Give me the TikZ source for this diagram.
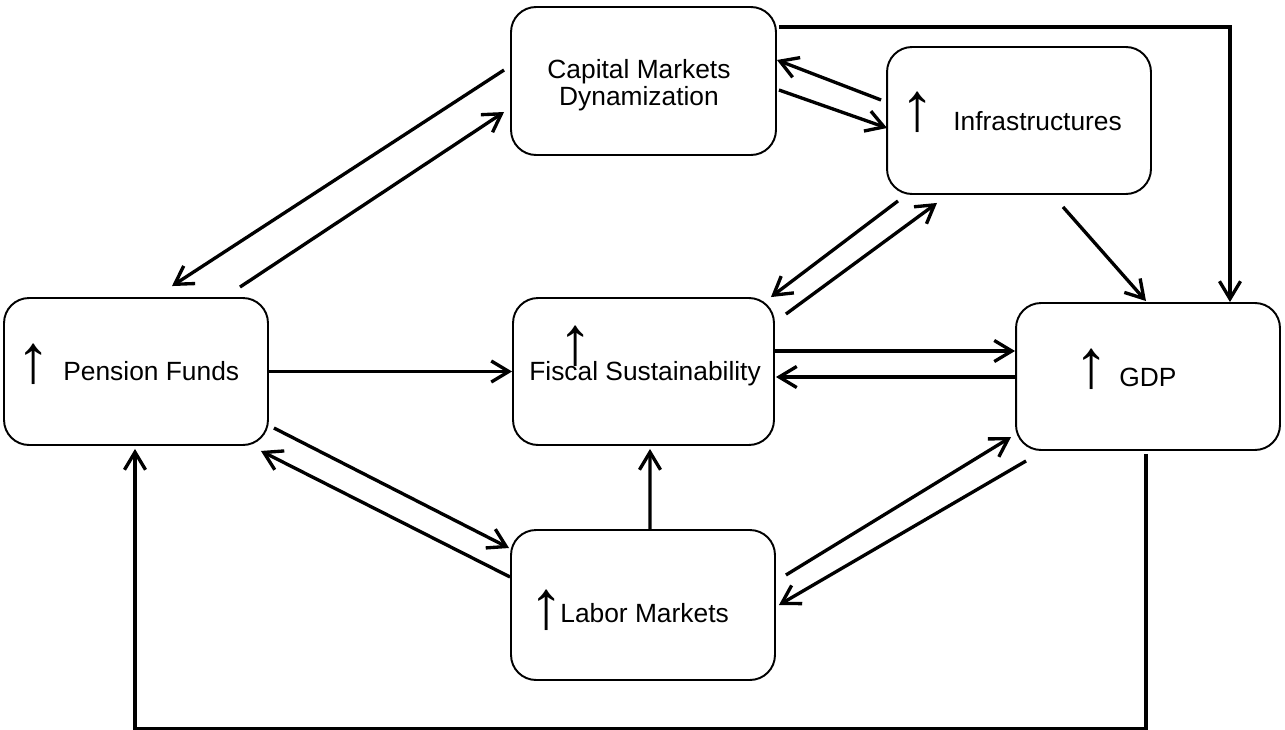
\documentclass[tikz,border=0pt]{standalone}
\usepackage{fontspec}
\setmainfont{Liberation Sans}
\usetikzlibrary{arrows.meta,calc}
\begin{document}
\begin{tikzpicture}[x=0.02cm,y=-0.02cm,
  box/.style={draw, line width=1.1pt, rounded corners=0.5cm, inner sep=0pt},
  conn/.style={line width=1.9pt, -{Straight Barb[length=10pt,width=12pt,line width=1.9pt]}},
  lbl/.style={font=\fontsize{15}{15.5}\selectfont, inner sep=0pt},
  up/.style={font=\fontsize{39}{39}\selectfont\bfseries, inner sep=0pt}]
\useasboundingbox (0,0) rectangle (1285,730);
% boxes
\node[box, minimum width=5.3cm, minimum height=2.96cm] (cap) at (643.5,81) {};
\node[box, minimum width=5.28cm, minimum height=2.94cm] (inf) at (1019,120.5) {};
\node[box, minimum width=5.28cm, minimum height=2.94cm] (pen) at (136,371.5) {};
\node[box, minimum width=5.22cm, minimum height=2.94cm] (fis) at (643.5,371.5) {};
\node[box, minimum width=5.28cm, minimum height=2.94cm] (gdp) at (1148,376.5) {};
\node[box, minimum width=5.28cm, minimum height=3.0cm] (lab) at (643,605) {};
% texts
\node[lbl, align=center] (captext) at (639,85) {Capital Markets\\Dynamization};
\node[lbl, anchor=base west] (inftext) at (953,130) {Infrastructures};
\node[lbl, anchor=base west] (pentext) at (63,380) {Pension Funds};
\node[lbl, anchor=base west] (fistext) at (529,380) {Fiscal Sustainability};
\node[lbl, anchor=base west] (gdptext) at (1119,386) {GDP};
\node[lbl, anchor=base west] (labtext) at (560,622) {Labor Markets};
% up arrows
\node[up] (infup) at (918,112.5) {↑};
\node[up] (penup) at (34,364.5) {↑};
\node[up] (fisup) at (576,346.5) {↑};
\node[up] (gdpup) at (1092,369.5) {↑};
\node[up] (labup) at (547,610) {↑};
% connectors
\draw[conn] ($(cap.west)+(-6,-11)$) -- ($(pen.north)+(36,-11)$);
\draw[conn] ($(pen.north)+(104,-10)$) -- ($(cap.west)+(-6,31)$);
\draw[conn] ($(inf.west)+(-5,-20.5)$) -- ($(cap.east)+(0,-21)$);
\draw[conn] ($(cap.east)+(2,9)$) -- ($(inf.west)+(1,7.5)$);
\draw[conn] ($(cap.east)+(2,-54)$) -| ($(gdp.north)+(82,0)$);
\draw[conn] ($(inf.south)+(44,12)$) -- ($(gdp.north)+(-2,-1)$);
\draw[conn] ($(inf.south)+(-121,6)$) -- ($(fis.north east)+(-4,0)$);
\draw[conn] ($(fis.north east)+(11,17)$) -- ($(inf.south)+(-82,8)$);
\draw[conn] (pen.east) -- (fis.west);
\draw[conn] ($(fis.east)+(0,-20.5)$) -- ($(gdp.west)+(0,-25.5)$);
\draw[conn] ($(gdp.west)+(0,0.5)$) -- ($(fis.east)+(1,5.5)$);
\draw[conn] ($(pen.east)+(5,56.5)$) -- ($(lab.west)+(-1,-57)$);
\draw[conn] ($(lab.west)+(0,-28)$) -- ($(pen.south east)+(-8,5)$);
\draw[conn] ($(lab.north)+(7,0)$) -- ($(fis.south)+(6.5,3)$);
\draw[conn] ($(lab.east)+(10,-30)$) -- ($(gdp.west)+(-4,60.5)$);
\draw[conn] ($(gdp.south west)+(11,10)$) -- ($(lab.east)+(3,0)$);
\draw[conn] ($(gdp.south)+(-2,3)$) -- ++(0,275) -| ($(pen.south)+(-1,3)$);
\end{tikzpicture}
\end{document}
